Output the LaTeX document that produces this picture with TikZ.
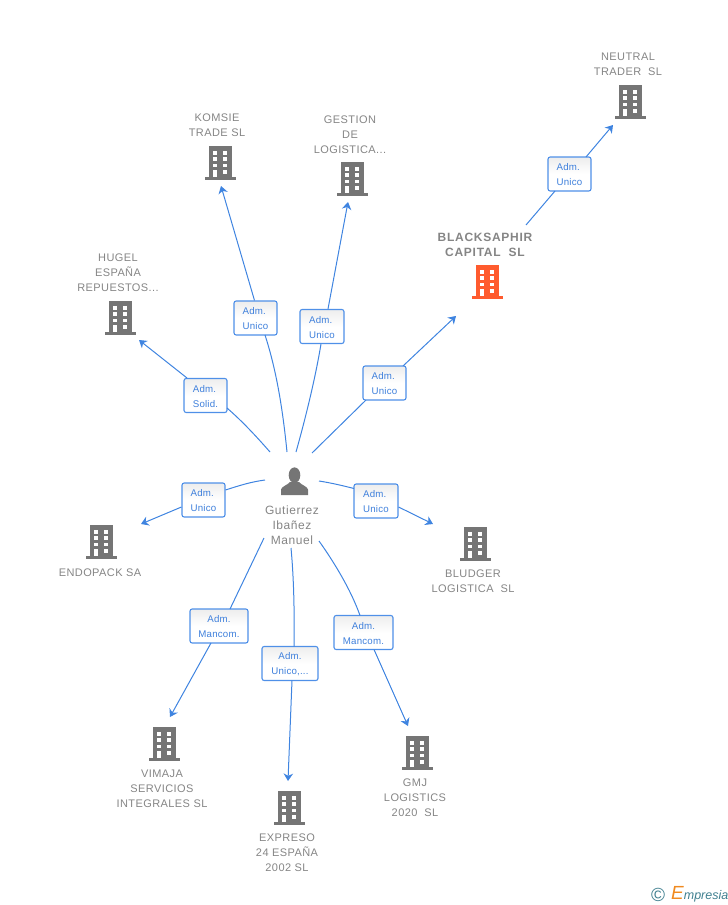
\documentclass[tikz,border=0pt]{standalone}
\usepackage{fontspec}
\setmainfont{Liberation Sans}
\usetikzlibrary{arrows.meta,shadings}
\definecolor{linkblue}{HTML}{3F84E0}
\definecolor{boxblue}{HTML}{4F90E8}
\definecolor{txtblue}{HTML}{3F80DC}
\definecolor{txtgray}{HTML}{858585}
\definecolor{bldgray}{HTML}{757575}
\definecolor{bldorange}{HTML}{FF5B2E}
\definecolor{logoteal}{HTML}{3F7F8F}
\definecolor{logoorange}{HTML}{F08A20}
\tikzset{
  x=1pt,y=-1pt,
  link/.style={draw=linkblue,line width=1pt},
  arrowlink/.style={link,-{Stealth[length=7.5pt,width=9.5pt,inset=2.4pt]}},
  rolebox/.style={draw=boxblue,line width=1.1pt,rounded corners=2.2pt,top color=black!7,bottom color=white,middle color=white,
     text=txtblue,font=\fontsize{9.7}{15}\selectfont\addfontfeature{LetterSpace=2},inner sep=0pt,anchor=center},
  company/.style={text=txtgray,font=\fontsize{11}{15}\selectfont\addfontfeature{LetterSpace=3.8},align=center,inner sep=0pt,anchor=center,yshift=-1pt},
  boldcompany/.style={company,font=\fontsize{12}{15}\selectfont\bfseries\addfontfeature{LetterSpace=6}},
  personlabel/.style={company,font=\fontsize{12}{15}\selectfont\addfontfeature{LetterSpace=4.6}},
  pics/bldg/.style={code={
    \fill[#1] (-11.5,0) rectangle (11.5,31);
    \fill[#1] (-15.5,31) rectangle (15.5,33.6);
    \foreach \wy in {5,11,17.5}{
      \fill[white] (-7,\wy) rectangle +(4.4,3.7);
      \fill[white] (2.6,\wy) rectangle +(4.4,3.7);
    }
    \fill[white] (-7,24) rectangle +(4.4,7);
    \fill[white] (2.6,24) rectangle +(4.4,3.7);
  }}
}
\newcommand{\lowered}[1]{\raisebox{-1pt}[\height][\depth]{#1}}
% name, x, y, width, height, alignment, first line, second line
\newcommand{\rolenode}[8]{\node[rolebox,align=#6,minimum width=#4pt,minimum height=#5pt] (#1) at (#2,#3) {\lowered{#7}\\\lowered{#8}};}
\begin{document}
\begin{tikzpicture}
\useasboundingbox (0,0) rectangle (728,905);

% buildings
\pic at (630,85) {bldg=bldgray};
\pic at (487,265) {bldg=bldorange};
\pic at (220,146) {bldg=bldgray};
\pic at (352,162) {bldg=bldgray};
\pic at (120,301) {bldg=bldgray};
\pic at (101,525) {bldg=bldgray};
\pic at (475,527) {bldg=bldgray};
\pic at (164,727) {bldg=bldgray};
\pic at (289,791) {bldg=bldgray};
\pic at (417,736) {bldg=bldgray};

% company labels
\node[company] (neutral) at (628,63.5) {NEUTRAL\\TRADER\ \ SL};
\node[boldcompany] (blacksaphir) at (485,243.5) {BLACKSAPHIR\\CAPITAL\ \ SL};
\node[company] (komsie) at (217,124.5) {KOMSIE\\TRADE SL};
\node[company] (gestion) at (350,134) {GESTION\\DE\\LOGISTICA...};
\node[company] (hugel) at (118,272) {HUGEL\\ESPAÑA\\REPUESTOS...};
\node[company] (endopack) at (100,572) {ENDOPACK SA};
\node[company] (bludger) at (473,580.5) {BLUDGER\\LOGISTICA\ \ SL};
\node[company] (vimaja) at (162,788) {VIMAJA\\SERVICIOS\\INTEGRALES SL};
\node[company] (expreso) at (287,852) {EXPRESO\\24 ESPAÑA\\2002 SL};
\node[company] (gmj) at (415,797) {GMJ\\LOGISTICS\\2020\ \ SL};
\node[personlabel] (person) at (292,524) {Gutierrez\\Ibañez\\Manuel};

% person icon
\fill[bldgray] (294.5,475.2) ellipse (5.8 and 7.8);
\fill[bldgray] (281,495) -- (281,489.5) .. controls (282,486) and (287,485.5) .. (290,482) -- (299,482)
  .. controls (302,485.5) and (307,486) .. (308,489.5) -- (308,495) -- cycle;

% role boxes
\rolenode{rsolid}{205.5}{395.5}{43}{34}{left}{Adm.}{Solid.}
\rolenode{rkomsie}{255.5}{318}{43}{34}{left}{Adm.}{Unico}
\rolenode{rgestion}{322}{326.5}{44}{34}{left}{Adm.}{Unico}
\rolenode{rblack}{384.5}{383}{43}{34}{left}{Adm.}{Unico}
\rolenode{rneutral}{569.5}{174}{43}{34}{left}{Adm.}{Unico}
\rolenode{rendo}{203.5}{500}{43}{34}{left}{Adm.}{Unico}
\rolenode{rbludger}{376}{501}{44}{34}{left}{Adm.}{Unico}
\rolenode{rvimaja}{219}{626}{58}{34}{center}{Adm.}{Mancom.}
\rolenode{rexpreso}{290}{663.5}{56}{34}{center}{Adm.}{Unico,...}
\rolenode{rgmj}{363.5}{632.5}{59}{34}{center}{Adm.}{Mancom.}

% connector free ends
\coordinate (s1) at (270,452); \coordinate (e1) at (139,340);
\coordinate (s2) at (287,452); \coordinate (e2) at (221,186);
\coordinate (s3) at (296,452); \coordinate (e3) at (348,202);
\coordinate (s4) at (312,453); \coordinate (e4) at (456,316);
\coordinate (s5) at (526,225); \coordinate (e5) at (613,125);
\coordinate (s6) at (265,480); \coordinate (e6) at (141,524);
\coordinate (s7) at (319,481); \coordinate (e7) at (433,524);
\coordinate (s8) at (264,538); \coordinate (e8) at (170,717);
\coordinate (s9) at (291,548); \coordinate (e9) at (288,781);
\coordinate (s10) at (319,541); \coordinate (e10) at (408,726);

% connectors
\draw[link] (s1) .. controls (256,436) and (242,421) .. (227,408);
\draw[arrowlink] (187,378) -- (e1);
\draw[link] (s2) .. controls (283,412) and (277,372) .. (265,335);
\draw[arrowlink] (rkomsie.north) ++(-1,0) -- (e2);
\draw[link] (s3) .. controls (305,420) and (315,380) .. (321,344);
\draw[arrowlink] (rgestion.north) ++(6,0) -- (e3);
\draw[link] (s4) -- (366,400);
\draw[arrowlink] (403,366) -- (e4);
\draw[link] (s5) -- (555,191);
\draw[arrowlink] (586,157) -- (e5);
\draw[link] (s6) .. controls (250,482) and (238,486) .. (225.5,490);
\draw[arrowlink] (rendo.west) ++(0,7) -- (e6);
\draw[link] (s7) .. controls (332,483) and (344,486) .. (354,488.5);
\draw[arrowlink] (rbludger.east) ++(0,6) -- (e7);
\draw[link] (s8) -- (230,609);
\draw[arrowlink] (211,643) -- (e8);
\draw[link] (s9) .. controls (294,580) and (294.5,615) .. (294,646.5);
\draw[arrowlink] (292,680.5) -- (e9);
\draw[link] (s10) .. controls (334,562) and (351,590) .. (360,615.5);
\draw[arrowlink] (374,649.5) -- (e10);

% logo
\node[inner sep=0pt,anchor=center,text=logoteal,font=\fontsize{19}{19}\selectfont] (copy) at (658,894.5) {©};
\node[inner sep=0pt,anchor=base west,font=\itshape\fontsize{12.5}{13}\selectfont,text=logoteal] (logo) at (671,899) {{\color{logoorange}\fontsize{19}{19}\selectfont E}mpresia};
\end{tikzpicture}
\end{document}
